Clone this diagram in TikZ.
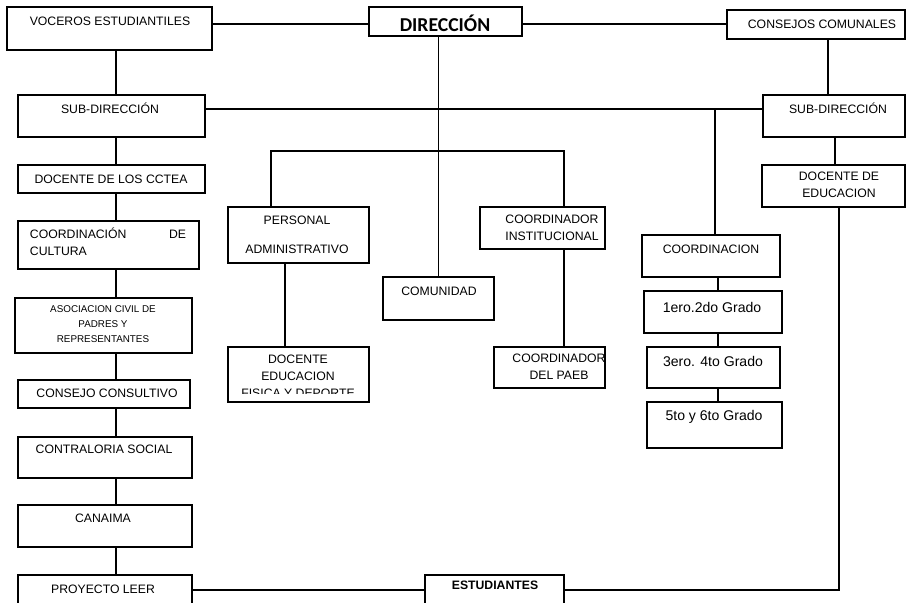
\documentclass[tikz,border=0pt]{standalone}
\usepackage{fontspec}
\setmainfont{Liberation Sans}
\newfontfamily\titulofont{Carlito}
\usetikzlibrary{fit}

\begin{document}
\begin{tikzpicture}[x=0.025cm, y=-0.025cm, line width=1.3pt,
  caja/.style={draw, rectangle, inner sep=0pt},
  texto/.style={inner sep=0pt, align=center, font=\fontsize{8.7}{12}\selectfont},
  chico/.style={texto, font=\fontsize{7}{10.6}\selectfont},
  grado/.style={texto, font=\fontsize{10}{12}\selectfont}]

\useasboundingbox (0,0) rectangle (906,603);

\node[caja, fit={(7,7) (212,50)}] (vocer) {};
\node[caja, fit={(369,7) (522,36)}] (dir) {};
\node[caja, fit={(727,10) (905,39)}] (consejos) {};

\node[texto] (tvocer) at (110,21) {VOCEROS ESTUDIANTILES};
\node[texto, font=\titulofont\bfseries\fontsize{14}{16}\selectfont] (tdir) at (445,23) {DIRECCIÓN};
\node[texto] (tconsejos) at (822,24) {CONSEJOS COMUNALES};

\node[caja, fit={(18,95) (205,137)}] (subizq) {};
\node[caja, fit={(18,165) (205,193)}] (cctea) {};
\node[caja, fit={(18,221) (199,269)}] (cultura) {};
\node[caja, fit={(15,298) (192,353)}] (asoc) {};
\node[caja, fit={(18,380) (190,408)}] (consultivo) {};
\node[caja, fit={(18,437) (192,478)}] (contraloria) {};
\node[caja, fit={(18,505) (192,547)}] (canaima) {};
\node[caja, fit={(18,575) (192,606)}] (leer) {};

\node[texto] (tsubizq) at (110,108) {SUB-DIRECCIÓN};
\node[texto] (tcctea) at (111,179) {DOCENTE DE LOS CCTEA};
\node[texto, text width=3.9cm, align=left] (tcultura) at (108,242) {COORDINACIÓN\hfill DE\\CULTURA};
\node[chico] (tasoc) at (103,324) {ASOCIACION CIVIL DE\\PADRES Y\\REPRESENTANTES};
\node[texto] (tconsultivo) at (107,393) {CONSEJO CONSULTIVO};
\node[texto] (tcontraloria) at (104,449) {CONTRALORIA SOCIAL};
\node[texto] (tcanaima) at (103,518) {CANAIMA};
\node[texto] (tleer) at (103,589) {PROYECTO LEER};

\node[caja, fit={(228,207) (369,263)}] (personal) {};
\node[caja, fit={(228,347) (369,402)}] (docfis) {};
\node[caja, fit={(383,277) (494,320)}] (comunidad) {};
\node[caja, fit={(480,207) (605,249)}] (coordinst) {};
\node[caja, fit={(494,347) (605,388)}] (paeb) {};
\node[caja, fit={(425,575) (564,606)}] (estud) {};

\node[texto] (tpersonal) at (297,235) {PERSONAL\\[9pt]ADMINISTRATIVO};
\begin{scope}
\clip (228,347) rectangle (369,393);
\node[texto, font=\fontsize{8.7}{12}\selectfont] (tdocfis) at (298,376) {DOCENTE\\EDUCACION\\FISICA Y DEPORTE};
\end{scope}
\node[texto] (tcomunidad) at (439,291) {COMUNIDAD};
\node[texto] (tcoordinst) at (552,228) {COORDINADOR\\INSTITUCIONAL};
\node[texto] (tpaeb) at (559,367) {COORDINADOR\\DEL PAEB};
\node[texto, font=\bfseries\fontsize{8.7}{12}\selectfont] (testud) at (495,585) {ESTUDIANTES};

\node[caja, fit={(763,95) (905,137)}] (subder) {};
\node[caja, fit={(762,165) (905,207)}] (doced) {};
\node[caja, fit={(642,235) (780,277)}] (coordinacion) {};
\node[caja, fit={(644,291) (782,333)}] (grado12) {};
\node[caja, fit={(647,347) (780,388)}] (grado34) {};
\node[caja, fit={(647,402) (782,448)}] (grado56) {};

\node[texto] (tsubder) at (838,108) {SUB-DIRECCIÓN};
\node[texto] (tdoced) at (839,185) {DOCENTE DE\\EDUCACION};
\node[texto] (tcoordinacion) at (711,249) {COORDINACION};
\node[grado] (tgrado12) at (712,307) {1ero.2do Grado};
\node[grado] (tgrado34) at (713,361) {3ero. 4to Grado};
\node[grado] (tgrado56) at (714,417) {5to y 6to Grado};

\coordinate (ejesup) at (0,24);
\coordinate (ejesub) at (0,109);
\coordinate (ejeinf) at (0,590);
\coordinate (ejeizq) at (116,0);
\coordinate (ejecons) at (828,0);
\coordinate (ejesubder) at (835,0);
\coordinate (ejedoc) at (839,0);
\coordinate (ejepers) at (285,0);
\coordinate (ejegrado) at (718,0);
\coordinate (ejecoord) at (715,109);
\coordinate (rama) at (271,151);
\coordinate (ramader) at (564,151);

\draw (vocer.east |- ejesup) -- (dir.west |- ejesup);
\draw (dir.east |- ejesup) -- (consejos.west |- ejesup);

\draw (vocer.south -| ejeizq) -- (subizq.north -| ejeizq);
\draw (subizq.south -| ejeizq) -- (cctea.north -| ejeizq);
\draw (cctea.south -| ejeizq) -- (cultura.north -| ejeizq);
\draw (cultura.south -| ejeizq) -- (asoc.north -| ejeizq);
\draw (asoc.south -| ejeizq) -- (consultivo.north -| ejeizq);
\draw (consultivo.south -| ejeizq) -- (contraloria.north -| ejeizq);
\draw (contraloria.south -| ejeizq) -- (canaima.north -| ejeizq);
\draw (canaima.south -| ejeizq) -- (leer.north -| ejeizq);

\draw (subizq.east |- ejesub) -- (subder.west |- ejesub);
\draw (consejos.south -| ejecons) -- (subder.north -| ejecons);
\draw (dir.south -| comunidad.north) -- (comunidad.north);

\draw (personal.north -| rama) -- (rama) -- (ramader) -- (coordinst.north -| ramader);
\draw (personal.south -| ejepers) -- (docfis.north -| ejepers);
\draw (coordinst.south -| ramader) -- (paeb.north -| ramader);

\draw (ejecoord) -- (coordinacion.north -| ejecoord);
\draw (coordinacion.south -| ejegrado) -- (grado12.north -| ejegrado);
\draw (grado12.south -| ejegrado) -- (grado34.north -| ejegrado);
\draw (grado34.south -| ejegrado) -- (grado56.north -| ejegrado);

\draw (subder.south -| ejesubder) -- (doced.north -| ejesubder);
\draw (doced.south -| ejedoc) |- (estud.east |- ejeinf);
\draw (leer.east |- ejeinf) -- (estud.west |- ejeinf);

\end{tikzpicture}
\end{document}
